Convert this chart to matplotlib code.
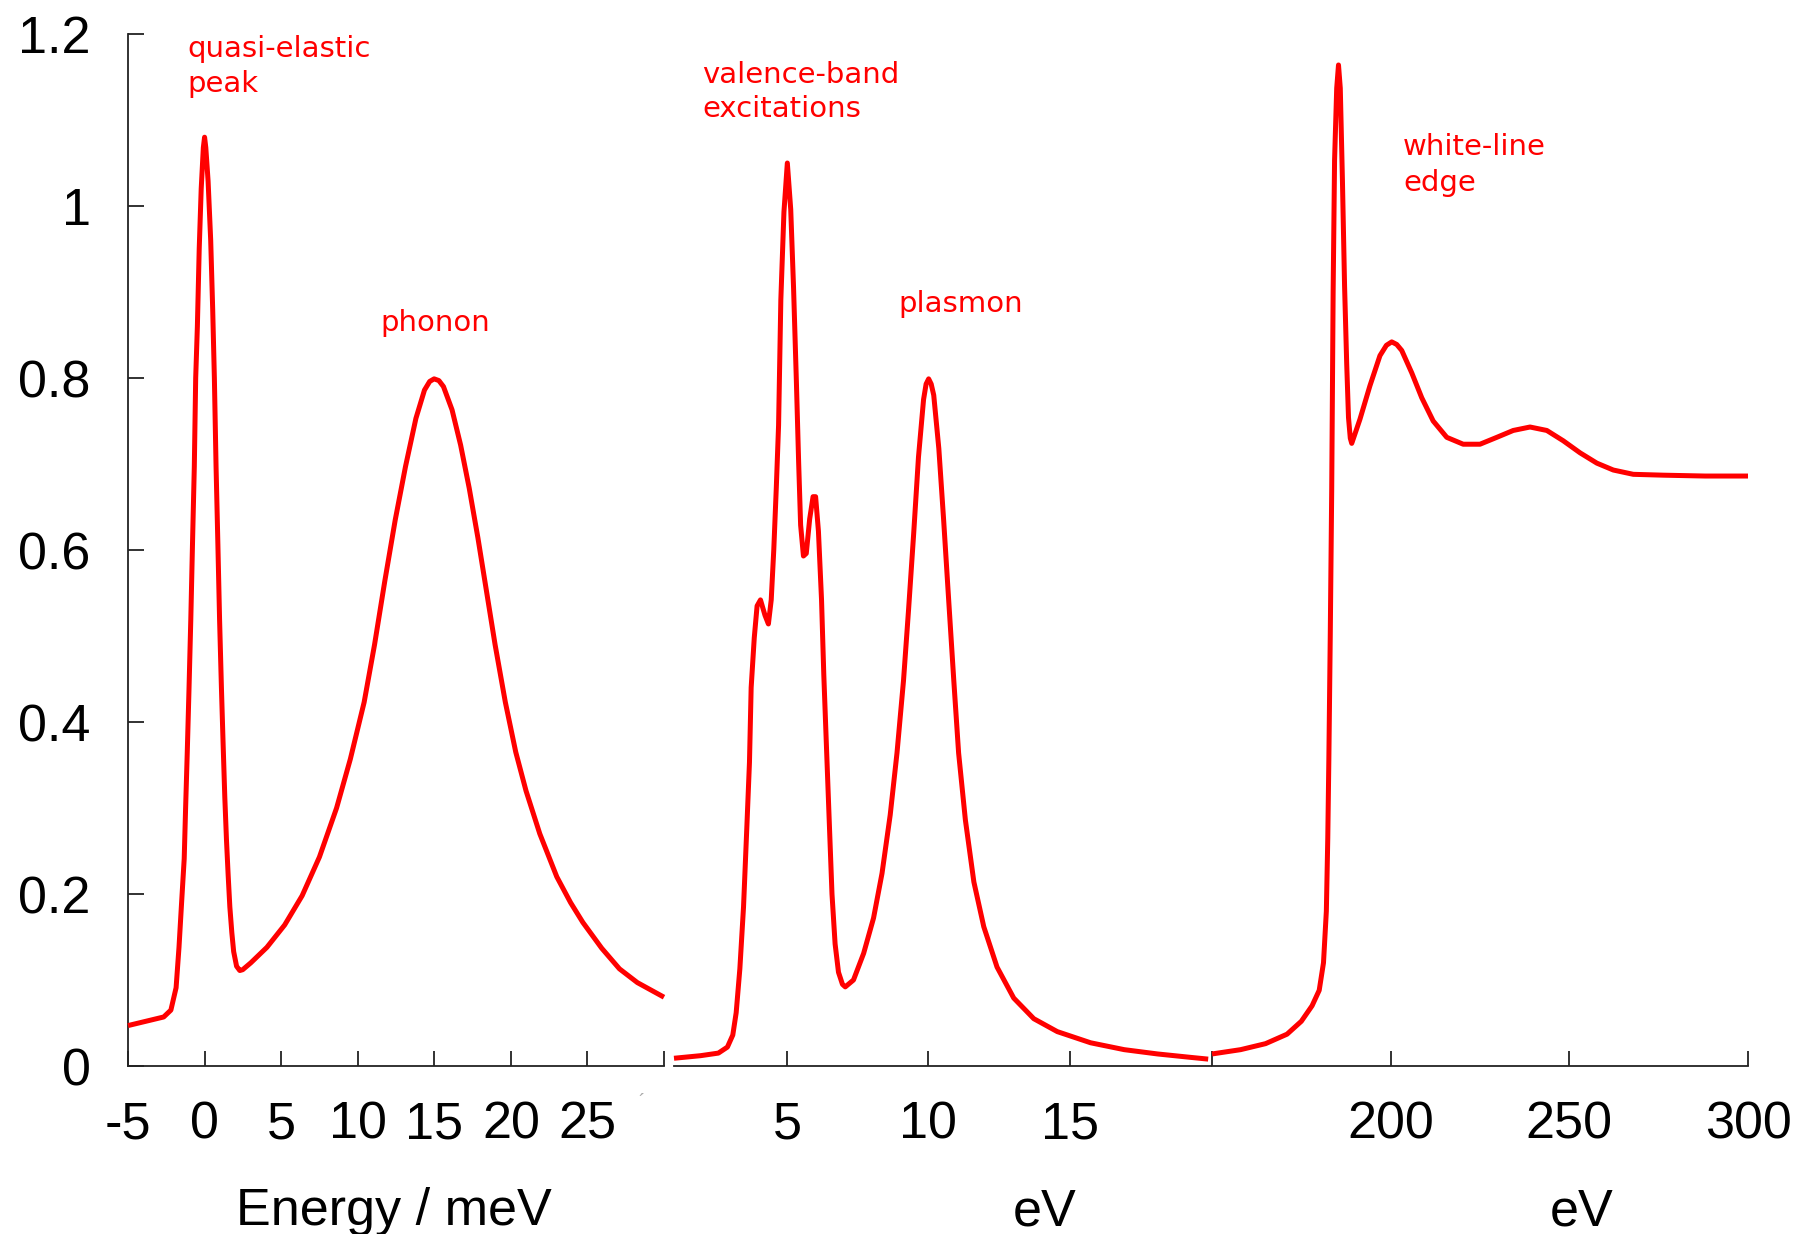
import matplotlib
matplotlib.use("Agg")
import matplotlib.pyplot as plt

plt.rcParams['axes.unicode_minus'] = False

# ---------------- data ----------------
# Panel 1: energy in meV
mev_x = [-5.0, -3.6, -2.67, -2.2, -1.86, -1.67, -1.51, -1.33, -1.24, -1.13, -1.02, -0.9,
         -0.79, -0.67, -0.58, -0.47, -0.35, -0.22, -0.08, 0.0, 0.08, 0.23, 0.4, 0.53,
         0.64, 0.75, 0.87, 0.98, 1.1, 1.21, 1.32, 1.43, 1.54, 1.65, 1.78, 1.9, 2.09, 2.3,
         2.49, 3.02, 4.07, 5.23, 6.37, 7.5, 8.62, 9.52, 10.42, 11.1, 11.77, 12.45,
         13.12, 13.8, 14.36, 14.7, 14.99, 15.3, 15.6, 16.16, 16.72, 17.28, 17.85, 18.41,
         18.97, 19.64, 20.32, 20.99, 21.89, 23.0, 23.9, 24.7, 25.93, 27.09, 28.26, 30.0]
mev_y = [0.047, 0.053, 0.057, 0.065, 0.091, 0.138, 0.187, 0.241, 0.299, 0.365, 0.436,
         0.519, 0.606, 0.697, 0.8, 0.86, 0.95, 1.02, 1.068, 1.08, 1.068, 1.029, 0.96,
         0.88, 0.8, 0.697, 0.606, 0.519, 0.44, 0.375, 0.313, 0.263, 0.222, 0.185, 0.155,
         0.133, 0.116, 0.111, 0.112, 0.12, 0.138, 0.164, 0.198, 0.243, 0.3,
         0.357, 0.423, 0.49, 0.564, 0.635, 0.697, 0.753, 0.786, 0.796, 0.799, 0.797,
         0.79, 0.763, 0.722, 0.672, 0.614, 0.552, 0.49, 0.423, 0.365, 0.32, 0.27, 0.22,
         0.19, 0.167, 0.137, 0.113, 0.097, 0.08]

# Panel 2: low-loss region in eV
ev_low_x = [1.0, 1.94, 2.57, 2.89, 3.08, 3.2, 3.33, 3.46, 3.58, 3.67, 3.73, 3.84, 3.94,
            4.06, 4.22, 4.34, 4.44, 4.53, 4.62, 4.7, 4.78, 4.89, 5.01, 5.13, 5.23, 5.33,
            5.41, 5.48, 5.58, 5.68, 5.8, 5.92, 6.01, 6.11, 6.22, 6.3, 6.39, 6.49, 6.59,
            6.7, 6.82, 6.96, 7.06, 7.35, 7.71, 8.06, 8.36, 8.65, 8.89, 9.12, 9.3, 9.48,
            9.65, 9.83, 9.92, 10.01, 10.1, 10.19, 10.37, 10.54, 10.72, 10.9, 11.07, 11.31,
            11.61, 11.96, 12.43, 13.02, 13.73, 14.56, 15.74, 16.93, 18.11, 19.29, 19.9]
ev_low_y = [0.009, 0.012, 0.015, 0.022, 0.036, 0.062, 0.113, 0.185, 0.28, 0.353, 0.44,
            0.498, 0.535, 0.542, 0.524, 0.514, 0.542, 0.6, 0.673, 0.745, 0.891, 0.993,
            1.05, 0.996, 0.905, 0.796, 0.702, 0.629, 0.593, 0.596, 0.636, 0.662, 0.662,
            0.622, 0.542, 0.455, 0.375, 0.287, 0.2, 0.142, 0.109, 0.095, 0.092, 0.1,
            0.131, 0.172, 0.224, 0.292, 0.364, 0.448, 0.531, 0.619, 0.708, 0.775, 0.793,
            0.799, 0.793, 0.78, 0.718, 0.635, 0.541, 0.448, 0.364, 0.286, 0.214, 0.162,
            0.115, 0.079, 0.055, 0.04, 0.027, 0.019, 0.014, 0.01, 0.008]

# Panel 3: core-loss region in eV
ev_high_x = [150.0, 158.0, 165.0, 171.0, 175.0, 178.0, 180.0, 181.2, 182.0, 182.4, 182.7,
             183.1, 183.5, 183.9, 184.3, 184.9, 185.4, 185.9, 186.5, 187.1, 187.7, 188.2,
             188.7, 189.1, 189.6, 191.4, 194.2, 197.0, 198.8, 200.3, 201.7, 203.1, 205.9,
             208.7, 211.9, 215.7, 220.3, 225.0, 229.7, 234.3, 239.0, 243.7, 248.3, 253.0,
             257.7, 262.3, 267.9, 276.3, 288.0, 300.0]
ev_high_y = [0.014, 0.019, 0.026, 0.037, 0.052, 0.07, 0.088, 0.12, 0.18, 0.265, 0.356,
             0.502, 0.67, 0.9, 1.053, 1.137, 1.164, 1.137, 1.03, 0.907, 0.816, 0.754,
             0.73, 0.724, 0.73, 0.752, 0.791, 0.826, 0.838, 0.842, 0.839, 0.832, 0.806,
             0.777, 0.75, 0.731, 0.723, 0.723, 0.731, 0.739, 0.743, 0.739, 0.727, 0.713,
             0.701, 0.693, 0.688, 0.687, 0.686, 0.686]

y_ticks = [0, 0.2, 0.4, 0.6, 0.8, 1.0, 1.2]
y_ticklabels = ["0", "0.2", "0.4", "0.6", "0.8", "1", "1.2"]
mev_ticks = [-5, 0, 5, 10, 15, 20, 25, 30]
mev_ticklabels = ["-5", "0", "5", "10", "15", "20", "25", ""]
ev_low_ticks = [5, 10, 15]
ev_low_ticklabels = ["5", "10", "15"]
ev_high_ticks = [150, 200, 250, 300]
ev_high_ticklabels = ["", "200", "250", "300"]

annotations = [
    ("quasi-elastic", 187, 57), ("peak", 187, 92),
    ("phonon", 380, 331),
    ("valence-band", 702, 83), ("excitations", 702, 117),
    ("plasmon", 898, 312),
    ("white-line", 1403, 155), ("edge", 1403, 191),
]
xlabels = [("Energy / meV", 394), ("eV", 1045), ("eV", 1582)]

# ---------------- figure ----------------
W, H = 1817, 1234
fig = plt.figure(figsize=(W / 100, H / 100), dpi=100)
fig.patch.set_facecolor("white")

def fx(x):
    return x / W

def fy(y):
    return 1 - y / H

TICK_FONT = "Liberation Sans"
ANN_FONT = "DejaVu Sans"
RED = "#ff0000"
AXC = "#222222"

ax_bottom = fy(1066)
ax_height = (1066 - 34) / H
panels = [
    (128, 664, (-5, 30), mev_x, mev_y, mev_ticks, mev_ticklabels, True),
    (674, 1211, (1, 20), ev_low_x, ev_low_y, ev_low_ticks, ev_low_ticklabels, False),
    (1212, 1748, (150, 300), ev_high_x, ev_high_y, ev_high_ticks, ev_high_ticklabels, False),
]

for (x0, x1, xlim, xs, ys, ticks, labels, show_y) in panels:
    ax = fig.add_axes([fx(x0), ax_bottom, (x1 - x0) / W, ax_height])
    ax.plot(xs, ys, color=RED, lw=3.6, solid_joinstyle="round", solid_capstyle="butt",
            clip_on=False, zorder=3)
    ax.set_xlim(*xlim)
    ax.set_ylim(0, 1.2)
    for s in ["top", "right"]:
        ax.spines[s].set_visible(False)
    ax.spines["bottom"].set_color(AXC)
    ax.spines["bottom"].set_linewidth(1.3)
    ax.set_xticks(ticks)
    ax.set_xticklabels(labels, fontfamily=TICK_FONT, fontsize=37.5)
    ax.tick_params(axis="x", direction="in", length=10.5, width=1.3, color=AXC, pad=25)
    if show_y:
        ax.spines["left"].set_color(AXC)
        ax.spines["left"].set_linewidth(1.3)
        ax.set_yticks(y_ticks)
        ax.set_yticklabels(y_ticklabels, fontfamily=TICK_FONT, fontsize=37.5)
        ax.tick_params(axis="y", direction="in", length=11.5, width=1.3, color=AXC, pad=27)
    else:
        ax.spines["left"].set_visible(False)
        ax.set_yticks([])
    ax.patch.set_alpha(0)

for txt, x, y in annotations:
    fig.text(fx(x), fy(y), txt, color=RED, fontfamily=ANN_FONT, fontsize=21,
             ha="left", va="baseline")

for txt, x in xlabels:
    fig.text(fx(x), fy(1225), txt, color="black", fontfamily=TICK_FONT, fontsize=37.5,
             ha="center", va="baseline")

# small stray mark below the left axis
fig.text(fx(642), fy(1103), "\u00b4", color="#aaaaaa", fontfamily=TICK_FONT, fontsize=14,
         ha="center", va="center")

fig.savefig("out.png", dpi=100, facecolor="white")
